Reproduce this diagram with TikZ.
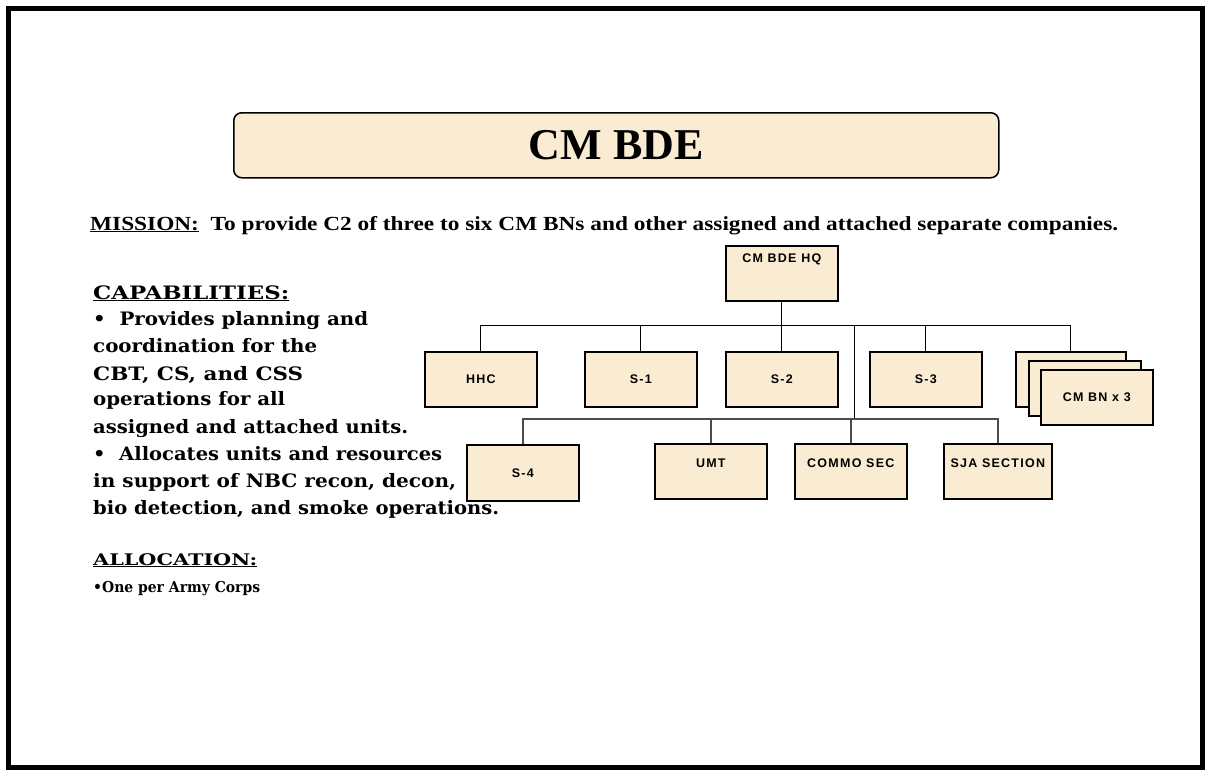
\documentclass[tikz,border=0pt]{standalone}
\usepackage{graphicx}
\usepackage{fontspec}
\setmainfont{Liberation Serif}
\newfontfamily\boxfont[LetterSpace=10]{Liberation Sans}
\newfontfamily\capfont{DejaVu Serif}
\definecolor{parch}{RGB}{250,236,210}
\begin{document}
\begin{tikzpicture}[x=1pt,y=-1pt,
  orgbox/.style={draw, line width=1.6pt, fill=parch, inner xsep=0pt, inner ysep=0pt,
    minimum width=112pt, anchor=north west, font=\boxfont\bfseries\fontsize{12.5}{14}\selectfont},
  midtext/.style={text height=32pt, text depth=23pt},
  toptext/.style={text height=24pt, text depth=31pt},
  upline/.style={line width=1pt, black},
  lowline/.style={line width=1.4pt, black!70},
  capline/.style={anchor=base west, inner sep=0pt, font=\capfont\bfseries\fontsize{18.5}{22}\selectfont},
  allocline/.style={anchor=base west, inner sep=0pt, font=\capfont\bfseries\fontsize{16}{20}\selectfont}
]
\useasboundingbox (0,0) rectangle (1207,771);
\fill[white] (0,0) rectangle (1207,771);
\draw[line width=5pt] (8.5,8.5) rectangle (1202.5,767.5);

% title
\node[draw, line width=1.5pt, rounded corners=8pt, fill=parch, anchor=north west,
  minimum width=765pt, inner xsep=0pt, inner ysep=0pt, text height=47pt, text depth=18pt,
  font=\bfseries\fontsize{44}{48}\selectfont] (title) at (233,112) {CM BDE};

% mission
\node[anchor=base west, inner sep=0pt, font=\bfseries\fontsize{20}{22}\selectfont] (mission) at (90,230)
  {\resizebox{1028pt}{\height}{\underline{MISSION:}\ \ To provide C2 of three to six CM BNs and other assigned and attached separate companies.}};

% capabilities
\node[capline] (c1) at (93,299) {\resizebox{196pt}{\height}{\underline{CAPABILITIES:}}};
\node[capline] (c2) at (93,325) {\resizebox{275pt}{\height}{•\ \ Provides planning and}};
\node[capline] (c3) at (93,352) {\resizebox{224pt}{\height}{coordination for the}};
\node[capline] (c4) at (93,380) {\resizebox{210pt}{\height}{CBT, CS, and CSS}};
\node[capline] (c5) at (93,405) {\resizebox{192pt}{\height}{operations for all}};
\node[capline] (c6) at (93,433) {\resizebox{315pt}{\height}{assigned and attached units.}};
\node[capline] (c7) at (93,460) {\resizebox{349pt}{\height}{•\ \ Allocates units and resources}};
\node[capline] (c8) at (93,487) {\resizebox{363pt}{\height}{in support of NBC recon, decon,}};
\node[capline] (c9) at (93,514) {\resizebox{406pt}{\height}{bio detection, and smoke operations.}};
\node[allocline] (c10) at (93,565) {\resizebox{164pt}{\height}{\underline{ALLOCATION:}}};
\node[allocline, font=\capfont\bfseries\fontsize{15}{18}\selectfont] (c11) at (93,592) {\resizebox{167pt}{\height}{•One per Army Corps}};

% org chart
\node[orgbox, text height=17pt, text depth=38pt] (hq) at (725,245) {CM BDE HQ};
\node[orgbox, midtext] (hhc) at (424,351) {HHC};
\node[orgbox, midtext] (s1) at (584,351) {S-1};
\node[orgbox, midtext] (s2) at (725,351) {S-2};
\node[orgbox, midtext] (s3) at (869,351) {S-3};
\node[orgbox, midtext, minimum width=110pt] (bn1) at (1015,351) {};
\node[orgbox, midtext] (bn2) at (1028,360) {};
\node[orgbox, midtext] (bn3) at (1040,369) {CM BN x 3};
\node[orgbox, text height=33pt, text depth=23pt] (s4) at (466,444) {S-4};
\node[orgbox, toptext] (umt) at (654,443) {UMT};
\node[orgbox, toptext] (commo) at (794,443) {COMMO SEC};
\node[orgbox, toptext, minimum width=108pt] (sja) at (943,443) {SJA SECTION};

\coordinate (b1) at (781,325);
\coordinate (j1) at (854,325);
\coordinate (b2) at (854,419);

\draw[upline] (hq.south) -- (hq.south |- b1);
\draw[upline] (hhc.north) |- (b1);
\draw[upline] (s1.north) |- (b1);
\draw[upline] (s2.north) |- (b1);
\draw[upline] (s3.north) |- (b1);
\draw[upline] (bn1.north) |- (b1);
\draw[upline] (j1) -- (b2);
\draw[lowline] (s4.north) |- (b2);
\draw[lowline] (umt.north) |- (b2);
\draw[lowline] (commo.north) |- (b2);
\draw[lowline] (sja.north) |- (b2);
\end{tikzpicture}
\end{document}
